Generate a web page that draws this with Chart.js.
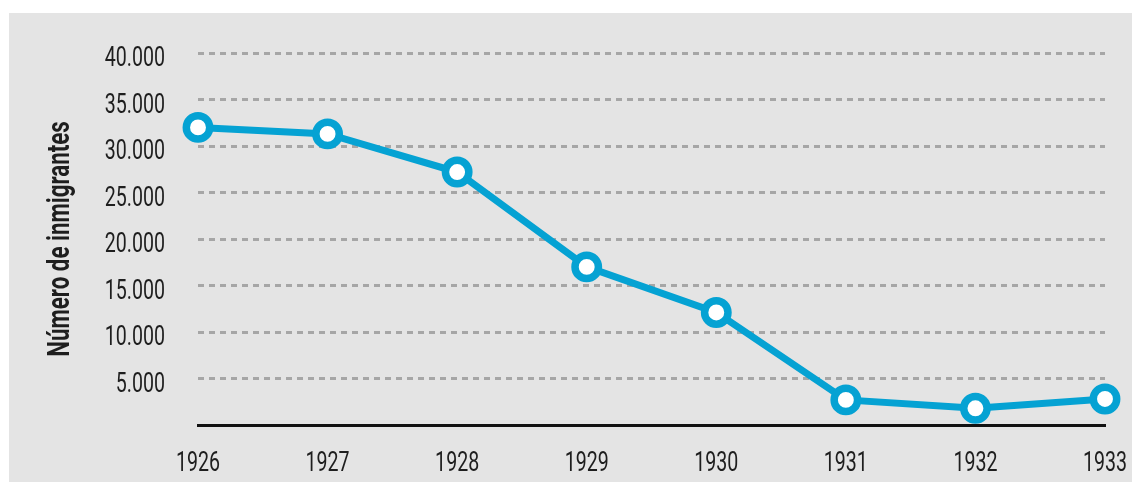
<!DOCTYPE html>
<html>
<head>
<meta charset="utf-8">
<script src="https://cdn.jsdelivr.net/npm/chart.js@4"></script>
<style>
  html, body { margin: 0; padding: 0; background: #ffffff; }
  #wrap { position: relative; width: 1132px; height: 482px; }
</style>
</head>
<body>
<div id="wrap"><canvas id="chart" width="1132" height="482"></canvas></div>
<script>
// Annual immigrant arrivals, 1926–1933
const years = ['1926', '1927', '1928', '1929', '1930', '1931', '1932', '1933'];
const immigrants = [32000, 31300, 27200, 17000, 12100, 2700, 1800, 2800];
const yTicks = [0, 5000, 10000, 15000, 20000, 25000, 30000, 35000, 40000];
const yTitle = 'Número de inmigrantes';

const lineBlue = '#05a2d3';
const panelGray = '#e4e4e4';
const gridGray = '#a6a6a6';
const textColor = '#1e1e1e';
const fontFamily = 'Roboto, "Liberation Sans", sans-serif';

// Condensed lettering: horizontal squeeze applied to every axis text
const tickFont = { size: 28, weight: 400, squeeze: 0.7 };
const titleFont = { size: 31, weight: 700, squeeze: 0.72 };

function formatThousands(v) {
  return String(v).replace(/\B(?=(\d{3})+(?!\d))/g, '.');
}

// Grey panel behind the plot
const panelBackground = {
  id: 'panelBackground',
  beforeDraw(chart) {
    const ctx = chart.ctx;
    ctx.save();
    ctx.fillStyle = panelGray;
    ctx.fillRect(9, 13, chart.width - 9, chart.height - 13);
    ctx.restore();
  }
};

function squeezedText(ctx, text, x, y, f, align, rotate) {
  ctx.save();
  ctx.translate(x, y);
  if (rotate) ctx.rotate(rotate);
  ctx.scale(f.squeeze, 1);
  ctx.font = `${f.weight} ${f.size}px ${fontFamily}`;
  ctx.fillStyle = textColor;
  ctx.textAlign = align;
  ctx.textBaseline = 'middle';
  ctx.fillText(text, 0, 0);
  ctx.restore();
}

// Axis labels and title, positioned from the chart's own scales
const condensedLabels = {
  id: 'condensedLabels',
  afterDraw(chart) {
    const ctx = chart.ctx;
    const area = chart.chartArea;
    const xs = chart.scales.x;
    const ys = chart.scales.y;

    ys.ticks.forEach(t => {
      if (t.value === 0) return;
      squeezedText(ctx, formatThousands(t.value), area.left - 33, ys.getPixelForValue(t.value) + 6, tickFont, 'right');
    });

    xs.ticks.forEach((t, i) => {
      squeezedText(ctx, years[i], xs.getPixelForTick(i), area.bottom + 39, tickFont, 'center');
    });

    squeezedText(ctx, yTitle, 61, (area.top + area.bottom) / 2, titleFont, 'center', -Math.PI / 2);
  }
};

new Chart(document.getElementById('chart'), {
  type: 'line',
  data: {
    labels: years,
    datasets: [{
      data: immigrants,
      borderColor: lineBlue,
      borderWidth: 7,
      tension: 0,
      pointRadius: 11.7,
      pointHoverRadius: 11.7,
      pointBorderWidth: 7.5,
      pointBackgroundColor: '#ffffff',
      pointBorderColor: lineBlue,
      clip: false
    }]
  },
  options: {
    responsive: false,
    animation: false,
    events: [],
    layout: { padding: { top: 53, right: 27, bottom: 0, left: 0 } },
    plugins: { legend: { display: false }, tooltip: { enabled: false } },
    scales: {
      x: {
        offset: false,
        grid: { display: false, drawTicks: false },
        border: { display: true, color: '#111111', width: 3 },
        ticks: { display: false, autoSkip: false, maxRotation: 0 },
        afterFit(scale) { scale.height = 57; }
      },
      y: {
        min: 0,
        max: 40000,
        afterBuildTicks(scale) { scale.ticks = yTicks.map(v => ({ value: v })); },
        grid: {
          drawTicks: false,
          color: ctx => (ctx.tick && ctx.tick.value === 0) ? 'rgba(0,0,0,0)' : gridGray,
          lineWidth: 3
        },
        border: { display: false, dash: [6, 5] },
        ticks: { display: false },
        afterFit(scale) { scale.width = 198; }
      }
    }
  },
  plugins: [panelBackground, condensedLabels]
});
</script>
</body>
</html>
